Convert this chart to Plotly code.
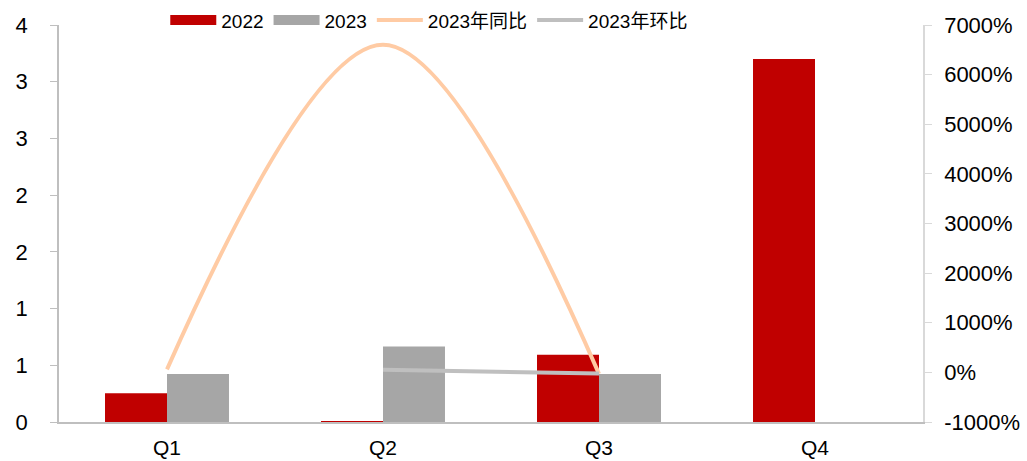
import plotly.graph_objects as go

categories = ["Q1", "Q2", "Q3", "Q4"]
v2022 = [0.254, 0.008, 0.592, 3.20]
v2023 = [0.424, 0.666, 0.424, None]
yoy_2023 = [60, 6600, -30, None]      # %
qoq_2023 = [None, 55, -25, None]      # %
left_tickvals = [0, 0.5, 1, 1.5, 2, 2.5, 3, 3.5]
left_ticktext = ["0", "1", "1", "2", "2", "3", "3", "4"]
right_tickvals = [-1000, 0, 1000, 2000, 3000, 4000, 5000, 6000, 7000]
right_ticktext = ["-1000%", "0%", "1000%", "2000%", "3000%", "4000%", "5000%", "6000%", "7000%"]

FONT = "Liberation Sans, Arial, Noto Sans CJK SC, sans-serif"
RED = "#C00000"
GREY = "#A6A6A6"

fig = go.Figure()
fig.add_trace(go.Bar(x=categories, y=v2022, name="2022", showlegend=False, legendgroup="a",
                     marker=dict(color=RED, line=dict(width=0))))
fig.add_trace(go.Bar(x=categories, y=v2023, name="2023", showlegend=False, legendgroup="b",
                     marker=dict(color=GREY, line=dict(width=0))))
# legend keys for the bars (wide rectangles as in the original)
fig.add_trace(go.Scatter(x=[None], y=[None], name="2022", mode="lines", legendgroup="a",
                         line=dict(color=RED, width=13), hoverinfo="skip"))
fig.add_trace(go.Scatter(x=[None], y=[None], name="2023", mode="lines", legendgroup="b",
                         line=dict(color=GREY, width=13), hoverinfo="skip"))
fig.add_trace(go.Scatter(x=categories, y=yoy_2023, name="2023年同比", mode="lines", yaxis="y2",
                         line=dict(color="#FFCBA4", width=4, shape="spline", smoothing=1.0)))
fig.add_trace(go.Scatter(x=categories, y=qoq_2023, name="2023年环比", mode="lines", yaxis="y2",
                         line=dict(color="#BFBFBF", width=4)))

fig.update_layout(
    width=1027, height=461,
    margin=dict(l=59, r=104, t=25, b=39, autoexpand=False),
    paper_bgcolor="white", plot_bgcolor="white",
    font=dict(family=FONT, size=22, color="#000000"),
    barmode="group", bargap=0.426, bargroupgap=0,
    showlegend=True,
    legend=dict(orientation="h", x=0.123, xanchor="left", y=1.012, yanchor="middle",
                font=dict(size=19), bgcolor="rgba(0,0,0,0)", itemwidth=46,
                tracegroupgap=0, traceorder="normal"),
    xaxis=dict(showline=True, linecolor="#BFBFBF", linewidth=1.5, ticks="", showgrid=False,
               tickfont=dict(size=21), ticklabelstandoff=6),
    yaxis=dict(range=[0, 3.5], tickvals=left_tickvals, ticktext=left_ticktext, showgrid=False,
               showline=True, linecolor="#BFBFBF", linewidth=1.5, ticks="outside", ticklen=7,
               tickcolor="#BFBFBF", zeroline=False, tickfont=dict(size=22), ticklabelstandoff=18),
    yaxis2=dict(range=[-1000, 7000], tickvals=right_tickvals, ticktext=right_ticktext, overlaying="y",
                side="right", showgrid=False, showline=True, linecolor="#D9D9D9", linewidth=1.5,
                ticks="outside", ticklen=7, tickcolor="#D9D9D9", zeroline=False,
                tickfont=dict(size=22), ticklabelstandoff=8),
)

fig.write_html("out.html")
